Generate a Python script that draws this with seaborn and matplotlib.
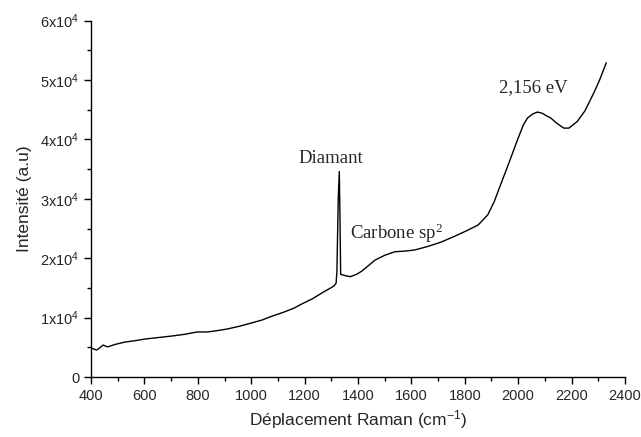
import numpy as np
import pandas as pd
import matplotlib
matplotlib.use("Agg")
import matplotlib.pyplot as plt
from matplotlib.ticker import MultipleLocator, FuncFormatter
import seaborn as sns

# Raman spectrum
shift = [400, 412, 421, 432, 445, 455, 463, 490, 527, 560, 601, 650, 700, 750,
         798, 836, 870, 910, 955, 1000, 1040, 1074, 1120, 1160, 1189, 1230, 1270,
         1309, 1318, 1321, 1326, 1330, 1333, 1335, 1350, 1371, 1395, 1413, 1440,
         1464, 1500, 1538, 1575, 1613, 1662, 1710, 1762, 1810, 1850, 1886, 1910,
         1936, 1965, 1998, 2020, 2035, 2055, 2072, 2090, 2105, 2122, 2145, 2171,
         2190, 2221, 2250, 2283, 2305, 2330]
intensity = [4900, 4700, 4550, 4900, 5400, 5200, 5100, 5500, 5900, 6100, 6400,
             6650, 6900, 7200, 7600, 7600, 7800, 8100, 8550, 9100, 9600, 10200,
             10900, 11600, 12300, 13200, 14300, 15300, 15800, 17800, 30000, 34600,
             25000, 17300, 17100, 16900, 17300, 17800, 18800, 19700, 20500, 21100,
             21200, 21400, 22000, 22700, 23700, 24700, 25600, 27300, 29500, 32600,
             36000, 40000, 42500, 43600, 44300, 44600, 44400, 44000, 43600, 42700,
             41900, 41900, 43000, 44800, 47800, 50000, 52900]

annotations = ["Diamant", "Carbone sp$^2$", "2,156 eV"]
ann_x = [1300, 1370, 2055]
ann_y = [36800, 24200, 48700]
ann_ha = ["center", "left", "center"]

df = pd.DataFrame({"shift": shift, "intensity": intensity})

sns.set_style("ticks")
plt.rcParams["font.family"] = ["Liberation Sans", "DejaVu Sans"]
plt.rcParams["mathtext.fontset"] = "custom"
plt.rcParams["mathtext.rm"] = "Liberation Sans"
plt.rcParams["mathtext.default"] = "regular"

fig = plt.figure(figsize=(6.41, 4.37), dpi=100)
ax = fig.add_axes([0.142, 0.137, 0.833, 0.816])

sns.lineplot(data=df, x="shift", y="intensity", color="black", linewidth=1.0, ax=ax)

for t, xx, yy, ha in zip(annotations, ann_x, ann_y, ann_ha):
    ax.text(xx, yy, t, ha=ha, va="center", fontsize=13.5,
            family=["Liberation Serif", "DejaVu Serif"])

ax.set_xlim(400, 2400)
ax.set_ylim(0, 60000)
ax.xaxis.set_major_locator(MultipleLocator(200))
ax.xaxis.set_minor_locator(MultipleLocator(100))
ax.yaxis.set_major_locator(MultipleLocator(10000))
ax.yaxis.set_minor_locator(MultipleLocator(5000))


def ylab(v, pos):
    if v == 0:
        return "0"
    return r"%dx10$^4$" % int(round(v / 10000))


ax.yaxis.set_major_formatter(FuncFormatter(ylab))
ax.tick_params(axis="both", which="major", direction="out", length=5, width=1,
               labelsize=10.5, color="black")
ax.tick_params(axis="both", which="minor", direction="out", length=3, width=1,
               color="black")
for s in ["left", "bottom"]:
    ax.spines[s].set_color("black")
    ax.spines[s].set_linewidth(1.0)
sns.despine(ax=ax)

ax.set_xlabel("Déplacement Raman (cm$^{-1}$)", fontsize=12.5, labelpad=4)
ax.set_ylabel("Intensité (a.u)", fontsize=12.5, labelpad=6)

fig.savefig("out.png", dpi=100)
